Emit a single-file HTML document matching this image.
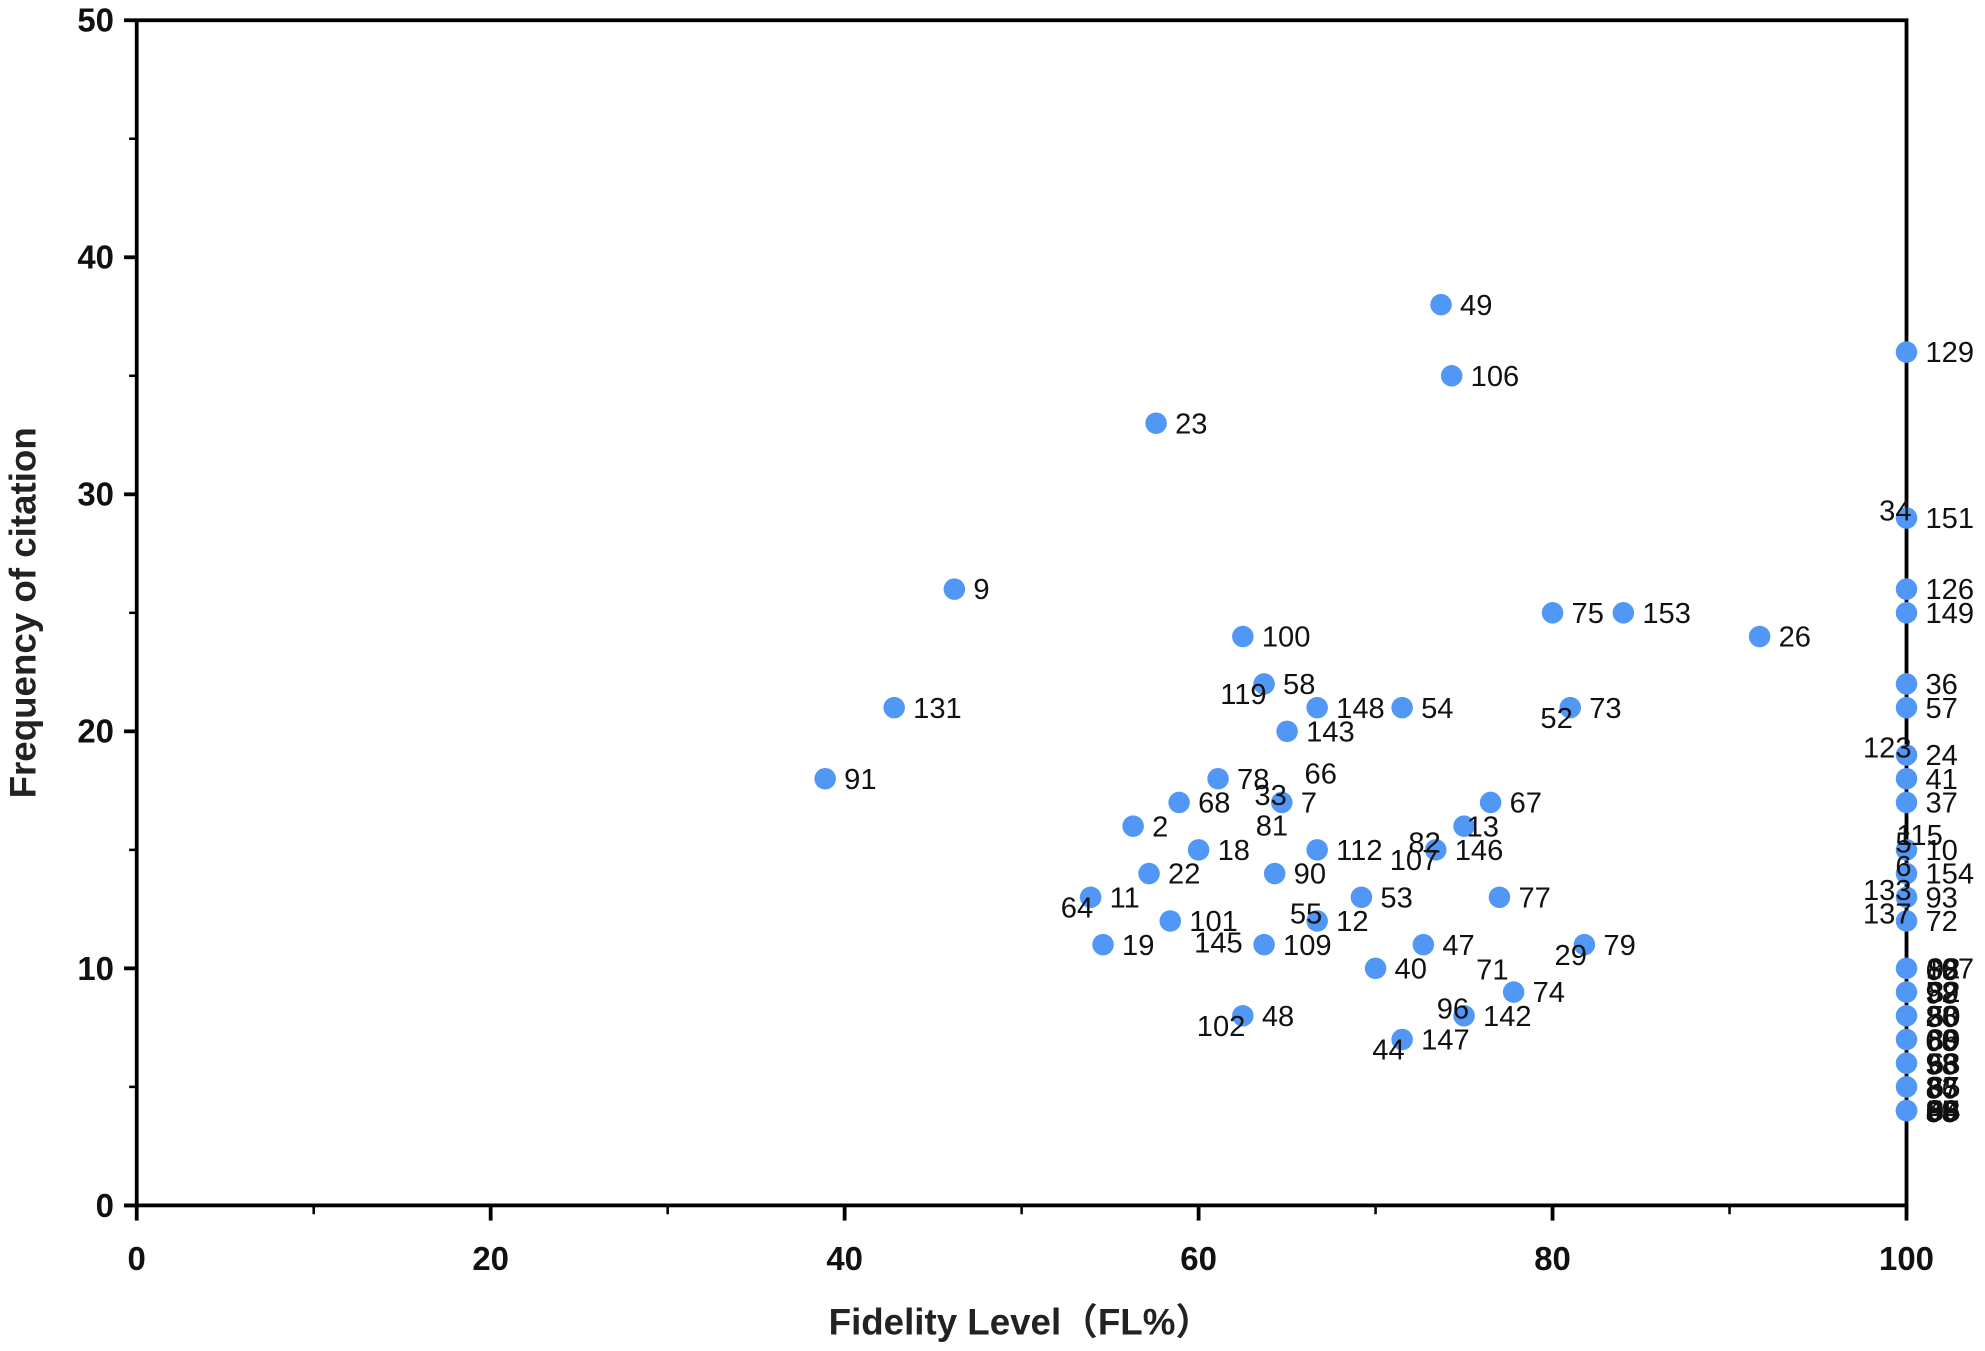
<!DOCTYPE html>
<html><head><meta charset="utf-8"><style>
html,body{margin:0;padding:0;background:#fff}
svg{display:block}
text{font-family:"Liberation Sans","Noto Sans CJK SC",sans-serif}
</style></head><body>
<svg id="chart" width="1985" height="1351" viewBox="0 0 1568 1067" preserveAspectRatio="none" xmlns="http://www.w3.org/2000/svg">
<g id="axes"></g>
<g id="marks"></g>
<text x="806" y="1054" text-anchor="middle" font-size="29" font-weight="bold" fill="#222">Fidelity Level（FL%）</text>
<text transform="translate(28,484) rotate(-90)" text-anchor="middle" font-size="29" font-weight="bold" fill="#222">Frequency of citation</text>
</svg>
<script>
const fl =    [73.7,74.3,57.6,100,100,46.2,100,100,80,84,91.7,62.5,63.7,66.7,71.5,81,42.8,65,38.9,61.1,64.7,58.9,76.5,56.3,75,60,66.7,73.4,57.2,64.3,53.9,69.2,77,58.4,66.7,54.6,63.7,72.7,81.8,70,77.8,75,62.5,71.5,100,100,100,100,100,100,100,100,100,100,100,100,100,100,100,100,100,100];
const freq =  [38,35,33,36,29,26,26,25,25,25,24,24,22,21,21,21,21,20,18,18,17,17,17,16,16,15,15,15,14,14,13,13,13,12,12,11,11,11,11,10,9,8,8,7,22,21,19,18,17,15,14,13,12,10,9,8,7,6,5,4,4,4];
const labels = [["49"],["106"],["23"],["129"],["34","151"],["9"],["126"],["149"],["75"],["153"],["26"],["100"],["58","119"],["148"],["54"],["73","52"],["131"],["143"],["91"],["78"],["33","7","81","66"],["68"],["67"],["2"],["13"],["18"],["112"],["82","146","107"],["22"],["90"],["11","64"],["53"],["77"],["101"],["55","12"],["19","145"],["109"],["47"],["79","29"],["40"],["74","71"],["142","96"],["48","102"],["147","44"],["36"],["57"],["24","123"],["41"],["37"],["115","10","5"],["154","6"],["93","133"],["72","137"],["107","88","92","68"],["52","39","82","98"],["28","30","50","86"],["60","86","89","08"],["98","56","63","38"],["83","87","65","36"],["69","99","88","58"],["85","59","95","38"],["8","43","94","66"]];
const modes = [["r"],["r"],["r"],["r"],["l","r"],["r"],["r"],["r"],["r"],["r"],["r"],["r"],["r","lb"],["r"],["r"],["r","lb"],["r"],["r"],["r"],["r"],["l","r","b","ra"],["r"],["r"],["r"],["ra2"],["r"],["r"],["l","r","lb"],["r"],["r"],["r","lb"],["r"],["r"],["r"],["l","r"],["r","r2"],["r"],["r"],["r","lb"],["r"],["r","la"],["r","l"],["r","lb"],["r","lb"],["r"],["r"],["r","l"],["r"],["r"],["ta","r","l"],["r","l"],["r","l"],["r","l"],["r","r3","r4","r5"],["r","r3","r4","r5"],["r","r3","r4","r5"],["r","r3","r4","r5"],["r","r3","r4","r5"],["r","r3","r4","r5"],["r","r3","r4","r5"],["r","r3","r4","r5"],["r","r3","r4","r5"]];
const xTicks=[0,20,40,60,80,100], yTicks=[0,10,20,30,40,50];
const X0=108,X1=1506,Y0=952,Y1=16;
const sx=v=>X0+(X1-X0)*v/100, sy=v=>Y0-(Y0-Y1)*v/50;
const NS="http://www.w3.org/2000/svg";
function mk(tag,attrs,parent){const e=document.createElementNS(NS,tag);for(const k in attrs)e.setAttribute(k,attrs[k]);parent.appendChild(e);return e;}
const ax=document.getElementById('axes'), mg=document.getElementById('marks');
let e;
e=mk('rect',{x:X0,y:Y1,width:X1-X0,height:Y0-Y1,fill:'none',stroke:'#000','stroke-width':3},ax);


for(let v=0;v<=100;v+=10){const major=v%20===0;
 e=mk('line',{x1:sx(v),x2:sx(v),y1:Y0,y2:Y0+(major?12:7),stroke:'#000','stroke-width':major?3:2},ax);
 
 }
mk('line',{x1:X0-10,x2:X0,y1:Y0,y2:Y0,stroke:'#000','stroke-width':3},ax);
for(let v=0;v<=50;v+=5){const major=v%10===0;
 e=mk('line',{x1:X0-(major?10:6),x2:X0,y1:sy(v),y2:sy(v),stroke:'#000','stroke-width':major?3:2},ax);
 
 }
xTicks.forEach(v=>{e=mk('text',{x:sx(v),y:Y0+51,'text-anchor':'middle','font-size':26,'font-weight':'bold',fill:'#111'},ax);e.textContent=v;
 
 });
yTicks.forEach(v=>{e=mk('text',{x:X0-18,y:sy(v)+9,'text-anchor':'end','font-size':26,'font-weight':'bold',fill:'#111'},ax);e.textContent=v;
 
 });
const off={r:[15,8,'start'],r2:[72,6,'start'],r3:[16,8,'start'],r4:[17,8,'start'],r5:[15,9,'start'],l:[4,2,'end'],lb:[2,16,'end'],b:[5,26,'end'],ra:[18,-15,'start'],ra2:[2,8,'start'],la:[-4,-10,'end'],ta:[-8,-4,'start']};
fl.forEach((v,i)=>{const cx=sx(v),cy=sy(freq[i]);
 e=mk('circle',{cx:cx,cy:cy,r:8.5,fill:'#5197f5'},mg);
 
 
 labels[i].forEach((t,j)=>{const o=off[modes[i][j]];
  e=mk('text',{x:cx+o[0],y:cy+o[1],'text-anchor':o[2],'font-size':23,fill:'#111'},mg);e.textContent=t;
  
  });
});
</script>
</body></html>
